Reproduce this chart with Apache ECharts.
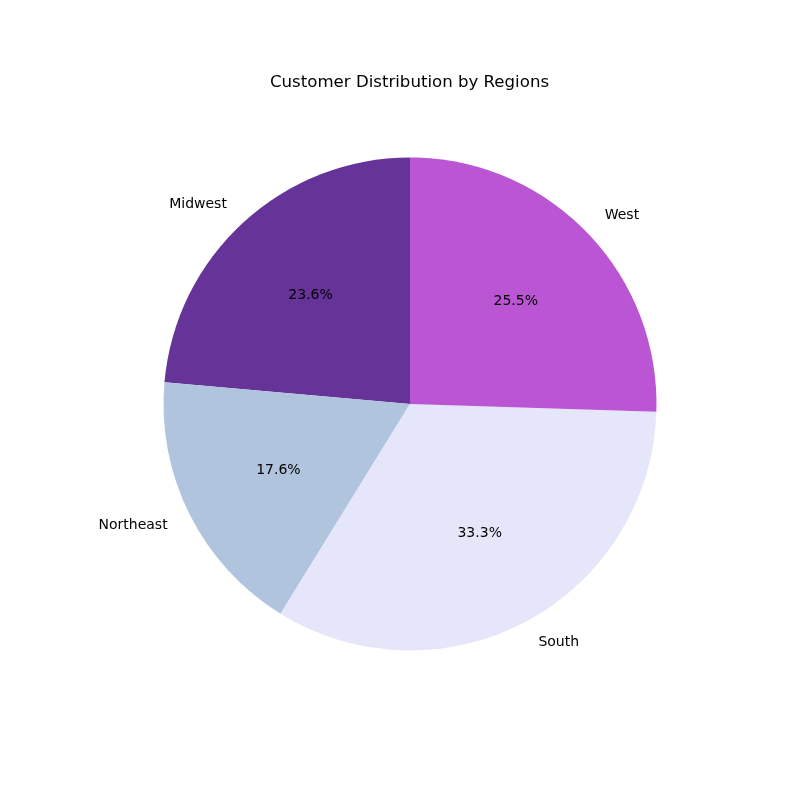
<!doctype html>
<html>
<head>
  <meta charset="UTF-8" />
  <title>Customer Distribution by Regions</title>
  <script src="https://cdn.jsdelivr.net/npm/echarts@6/dist/echarts.min.js"></script>
  <style>
    body { margin: 0; background: #ffffff; }
    #chart { width: 800px; height: 800px; }
  </style>
</head>
<body>
  <div id="chart"></div>
  <script>
    const regions = ["Midwest", "Northeast", "South", "West"];
    const shares = [23.6, 17.6, 33.3, 25.5];
    const colors = ["#663399", "#B0C4DE", "#E6E6FA", "#BA55D3"];

    const chart = echarts.init(document.getElementById("chart"));
    const R = 246.5;
    const font = "DejaVu Sans, sans-serif";

    const items = regions.map((name, i) => ({
      name: name,
      value: shares[i],
      itemStyle: { color: colors[i] },
    }));

    chart.setOption({
      animation: false,
      title: {
        text: "Customer Distribution by Regions",
        left: 265,
        top: 69,
        textStyle: { fontFamily: font, fontSize: 16.6, fontWeight: "normal", color: "#000" },
      },
      series: [
        {
          // slices + outside names
          type: "pie",
          center: [410, 404],
          radius: [0, R],
          startAngle: 90,
          clockwise: false,
          avoidLabelOverlap: false,
          data: items,
          itemStyle: { borderWidth: 0 },
          label: {
            show: true,
            position: "outside",
            formatter: "{b}",
            fontFamily: font,
            fontSize: 14,
            color: "#000",
            distanceToLabelLine: 0,
          },
          labelLine: { show: false, length: 0.1 * R, length2: 0 },
          emphasis: { disabled: true },
        },
        {
          // percent labels at ~0.6r
          type: "pie",
          center: [410, 404],
          radius: [0, 1.17 * R],
          startAngle: 90,
          clockwise: false,
          silent: true,
          data: items.map((d) => ({ name: d.name, value: d.value })),
          itemStyle: { color: "transparent", borderWidth: 0 },
          label: {
            show: true,
            position: "inside",
            formatter: (p) => p.percent.toFixed(1) + "%",
            fontFamily: font,
            fontSize: 14,
            color: "#000",
          },
          labelLine: { show: false },
          emphasis: { disabled: true },
        },
      ],
    });
  </script>
</body>
</html>
